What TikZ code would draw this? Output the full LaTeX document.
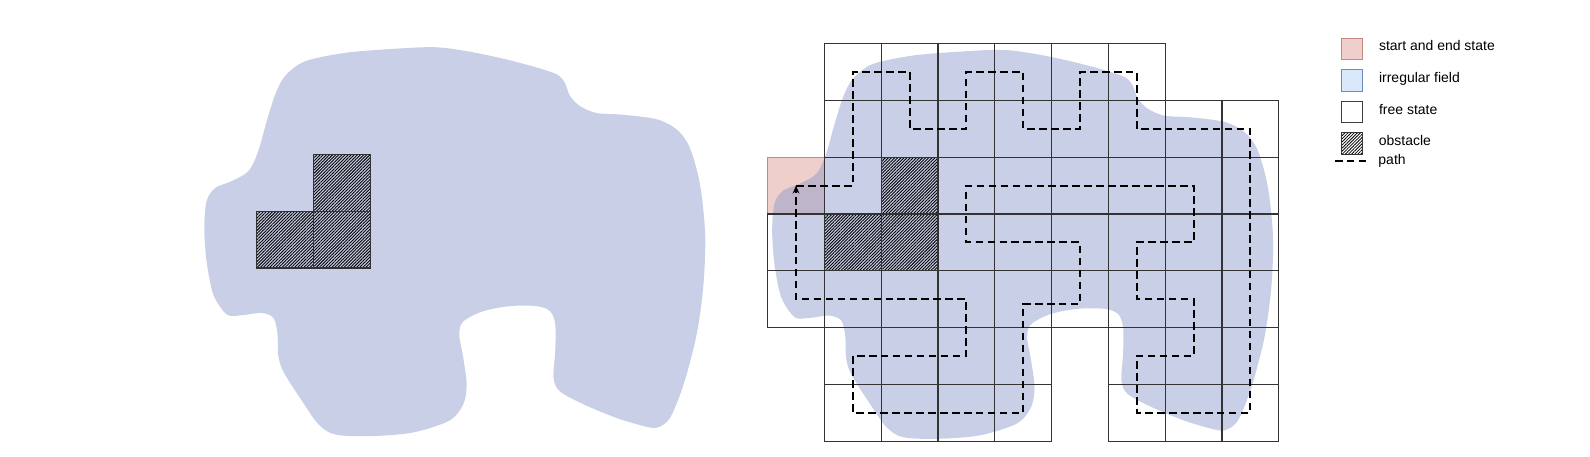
\documentclass[tikz,border=0pt]{standalone}
\usepackage{fontspec}
\setmainfont{Liberation Sans}
\usepackage{tikz}
\usetikzlibrary{positioning,patterns.meta,arrows.meta}

\definecolor{fieldblue}{RGB}{140,153,202}
\definecolor{startfill}{RGB}{238,207,203}
\definecolor{startline}{RGB}{196,136,130}
\definecolor{keyblue}{RGB}{218,232,252}
\definecolor{keyblueline}{RGB}{108,142,191}

\begin{document}
\begin{tikzpicture}[
        cellbox/.style={draw=black!80, line width=0.6pt, minimum size=1cm, inner sep=0pt},
        startbox/.style={cellbox, draw=startline, fill=startfill},
        obstaclebox/.style={cellbox, pattern={Lines[angle=45,distance=1.1pt,line width=0.45pt]}},
        field/.style={fill=fieldblue, fill opacity=0.47},
        route/.style={line width=1pt, dash pattern=on 3.8pt off 2.2pt},
        keybox/.style={draw, line width=0.6pt, minimum size=0.38cm, inner sep=0pt},
        keytext/.style={inner sep=0pt, font=\fontsize{7}{8}\selectfont, yshift=-1pt}
    ]
        \useasboundingbox (-13.518,-0.268) rectangle (14.482,7.768);

        \node[startbox] (start) at (0.5,4.5) {};

        \foreach \dx/\dy in {0/0,-10/0.047}
            \fill[field, shift={(\dx,\dy)}] plot[smooth cycle] coordinates {(3.40,6.86) (4.14,6.89) (4.70,6.82) (5.29,6.70) (5.87,6.55) (6.29,6.41) (6.43,6.26) (6.52,6.03) (6.70,5.85) (6.99,5.73) (7.46,5.70) (8.05,5.62) (8.40,5.44) (8.63,5.12) (8.81,4.47) (8.90,3.59) (8.87,2.71) (8.75,1.83) (8.52,0.95) (8.28,0.36) (8.05,0.19) (7.81,0.22) (7.34,0.36) (6.76,0.60) (6.34,0.83) (6.23,1.07) (6.26,1.54) (6.26,2.01) (6.17,2.24) (5.93,2.33) (5.46,2.33) (4.99,2.24) (4.64,2.06) (4.57,1.83) (4.64,1.42) (4.70,0.95) (4.64,0.60) (4.39,0.31) (3.73,0.10) (2.97,0.04) (2.38,0.07) (2.09,0.25) (1.80,0.66) (1.47,1.18) (1.38,1.48) (1.37,1.83) (1.30,2.12) (1.09,2.21) (0.74,2.17) (0.48,2.18) (0.24,2.53) (0.12,3.12) (0.08,3.71) (0.12,4.18) (0.27,4.41) (0.56,4.53) (0.86,4.71) (1.03,5.06) (1.18,5.59) (1.33,6.06) (1.50,6.38) (1.85,6.64) (2.56,6.79)};

        \foreach \c in {1,...,6} \node[cellbox] (c-\c-0) at (\c+0.5,6.5) {};
        \foreach \c in {1,...,8} \node[cellbox] (c-\c-1) at (\c+0.5,5.5) {};
        \foreach \c in {1,3,4,5,6,7,8} \node[cellbox] (c-\c-2) at (\c+0.5,4.5) {};
        \foreach \c in {0,3,4,5,6,7,8} \node[cellbox] (c-\c-3) at (\c+0.5,3.5) {};
        \foreach \c in {0,...,8} \node[cellbox] (c-\c-4) at (\c+0.5,2.5) {};
        \foreach \r in {5,6} \foreach \c in {1,2,3,4,6,7,8} \node[cellbox] (c-\c-\r) at (\c+0.5,6.5-\r) {};
        \foreach \c/\r in {2/2,1/3,2/3} \node[obstaclebox] (c-\c-\r) at (\c+0.5,6.5-\r) {};

        \foreach \c/\r in {2/2,1/3,2/3} \node[obstaclebox] (l-\c-\r) at (\c-9.5,6.547-\r) {};

        \draw[route, -{Stealth[length=4pt,width=3.4pt]}] (start.center) -- (c-1-2.center) -- (c-1-0.center) -- (c-2-0.center) -- (c-2-1.center) -- (c-3-1.center) -- (c-3-0.center) -- (c-4-0.center) -- (c-4-1.center) -- (c-5-1.center) -- (c-5-0.center) -- (c-6-0.center) -- (c-6-1.center) -- (c-8-1.center) -- (c-8-6.center) -- (c-6-6.center) -- (c-6-5.center) -- (c-7-5.center) -- (c-7-4.center) -- (c-6-4.center) -- (c-6-3.center) -- (c-7-3.center) -- (c-7-2.center) -- (c-3-2.center) -- (c-3-3.center) -- (c-5-3.center) -- ([yshift=-2.5pt]c-5-4.center) -- ([yshift=-2.5pt]c-4-4.center) -- (c-4-6.center) -- (c-1-6.center) -- (c-1-5.center) -- (c-3-5.center) -- (c-3-4.center) -- (c-0-4.center) -- (start.center);

        \node[keybox, draw=startline, fill=startfill] (key-start) at (10.29,6.905) {};
        \node[keybox, draw=keyblueline, fill=keyblue, below=0.154cm of key-start] (key-field) {};
        \node[keybox, draw=black!75, fill=white, below=0.154cm of key-field] (key-free) {};
        \node[keybox, draw=black!80, pattern={Lines[angle=45,distance=1.1pt,line width=0.4pt]}, below=0.154cm of key-free] (key-obstacle) {};
        \coordinate (key-path-a) at (9.99,4.94);
        \coordinate (key-path-b) at (10.57,4.94);
        \draw[route] (key-path-a) -- (key-path-b);

        \node[keytext, base right=0.27cm of key-start] (txt-start) {start and end state};
        \node[keytext, base right=0.27cm of key-field] (txt-field) {irregular field};
        \node[keytext, base right=0.27cm of key-free] (txt-free) {free state};
        \node[keytext, base right=0.27cm of key-obstacle] (txt-obstacle) {obstacle};
        \node[keytext, yshift=-1.1pt, base right=0.18cm of key-path-b] (txt-path) {path};
    \end{tikzpicture}
\end{document}
